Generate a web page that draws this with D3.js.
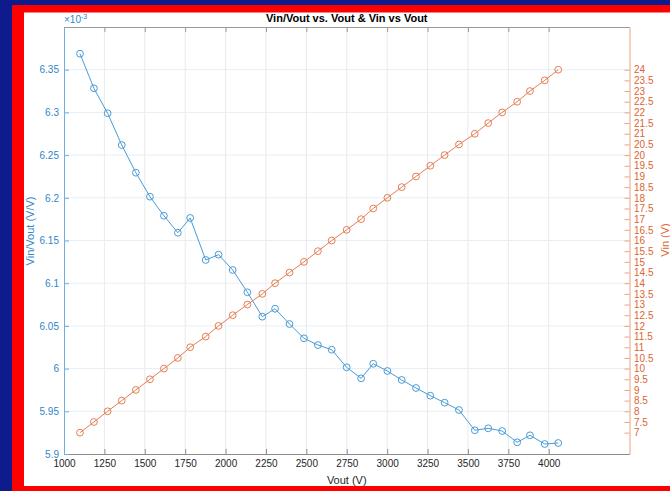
<!DOCTYPE html>
<html>
<head>
<meta charset="utf-8">
<script src="https://cdn.jsdelivr.net/npm/d3@7"></script>
<style>
  html, body { margin: 0; padding: 0; background: #0e1b8c; }
  svg { display: block; font-family: "Liberation Sans", Arial, sans-serif; }
</style>
</head>
<body>
<svg id="chart" width="670" height="491"></svg>
<script>
// Input voltage steps (V)
const vin = [7, 7.5, 8, 8.5, 9, 9.5, 10, 10.5, 11, 11.5, 12, 12.5, 13, 13.5, 14, 14.5, 15,
             15.5, 16, 16.5, 17, 17.5, 18, 18.5, 19, 19.5, 20, 20.5, 21, 21.5, 22, 22.5, 23, 23.5, 24];
// Output voltage measured at each step (V)
const vout = [1099.1, 1185.2, 1270.0, 1357.4, 1444.8, 1531.9, 1618.4, 1704.8, 1781.0, 1876.9,
              1956.5, 2044.0, 2134.9, 2227.4, 2306.4, 2395.8, 2485.3, 2571.5, 2656.9, 2749.3,
              2838.8, 2913.9, 3001.4, 3090.2, 3178.7, 3267.3, 3355.7, 3444.5, 3542.6, 3625.6,
              3711.9, 3804.7, 3883.9, 3975.2, 4058.9];
// Vin/Vout ratio, in units of 1e-3 V/V
const ratio = [6.3687, 6.3282, 6.2990, 6.2618, 6.2294, 6.2013, 6.1790, 6.1591, 6.1764, 6.1272,
               6.1334, 6.1155, 6.0894, 6.0608, 6.0701, 6.0522, 6.0355, 6.0276, 6.0221, 6.0015,
               5.9886, 6.0057, 5.9972, 5.9867, 5.9773, 5.9683, 5.9601, 5.9515, 5.9278, 5.9301,
               5.9269, 5.9137, 5.9219, 5.9117, 5.9129];

// Tick values
const xTicks = [1000, 1250, 1500, 1750, 2000, 2250, 2500, 2750, 3000, 3250, 3500, 3750, 4000];
const leftTicks = [5.9, 5.95, 6.0, 6.05, 6.1, 6.15, 6.2, 6.25, 6.3, 6.35];
const rightTicks = [7, 7.5, 8, 8.5, 9, 9.5, 10, 10.5, 11, 11.5, 12, 12.5, 13, 13.5, 14, 14.5, 15,
                    15.5, 16, 16.5, 17, 17.5, 18, 18.5, 19, 19.5, 20, 20.5, 21, 21.5, 22, 22.5,
                    23, 23.5, 24];

const blue = "#2f86c9", blueLine = "#4a9bd6";
const orange = "#dc6532", orangeLine = "#e57e53";

const svg = d3.select("#chart");

// frame
svg.append("rect").attr("x", 0).attr("y", 0).attr("width", 670).attr("height", 491).attr("fill", "#0e1b8c");
svg.append("rect").attr("x", 12).attr("y", 5).attr("width", 658).attr("height", 486).attr("fill", "#ff0000");
svg.append("rect").attr("x", 24).attr("y", 12.5).attr("width", 646).attr("height", 473.5).attr("fill", "#ffffff");

const L = 64, R = 629.5, T = 27, B = 454;

const x = d3.scaleLinear().domain([1000, 4500]).range([L, R]);
const yL = d3.scaleLinear().domain([5.9, 6.4]).range([B, T]);
const yR = d3.scaleLinear().domain([6, 26]).range([B, T]);

// grid
const grid = svg.append("g");
grid.selectAll("line.v").data(xTicks.slice(1)).join("line")
  .attr("x1", d => x(d)).attr("x2", d => x(d)).attr("y1", T).attr("y2", B)
  .attr("stroke", "#e9eaec").attr("stroke-width", 1);
grid.selectAll("line.h").data(leftTicks.slice(1)).join("line")
  .attr("x1", L).attr("x2", R).attr("y1", d => yL(d)).attr("y2", d => yL(d))
  .attr("stroke", "#e7eef6").attr("stroke-width", 1);

// axes
function styleAxis(g, color, textColor) {
  g.select(".domain").attr("stroke", color).attr("stroke-width", 1);
  g.selectAll(".tick line").attr("stroke", color).attr("stroke-width", 1);
  g.selectAll(".tick text").attr("fill", textColor).attr("font-size", 10)
    .attr("font-family", "Liberation Sans, Arial, sans-serif");
}

const xAxis = svg.append("g").attr("transform", `translate(0,${B})`)
  .call(d3.axisBottom(x).tickValues(xTicks).tickFormat(d3.format("d"))
    .tickSizeInner(-5).tickSizeOuter(0).tickPadding(6));
styleAxis(xAxis, "#8c8c8c", "#262626");

const topAxis = svg.append("g").attr("transform", `translate(0,${T})`)
  .call(d3.axisTop(x).tickValues(xTicks).tickFormat("").tickSizeInner(-5).tickSizeOuter(0));
styleAxis(topAxis, "#9a9a9a", "#262626");

const leftAxis = svg.append("g").attr("transform", `translate(${L},0)`)
  .call(d3.axisLeft(yL).tickValues(leftTicks).tickFormat(d => d3.format("")(+d.toFixed(2)))
    .tickSizeInner(-5).tickSizeOuter(0).tickPadding(5));
styleAxis(leftAxis, "#6fb0e0", blue);

const rightAxis = svg.append("g").attr("transform", `translate(${R},0)`)
  .call(d3.axisRight(yR).tickValues(rightTicks).tickFormat(d => String(d))
    .tickSizeInner(-5).tickSizeOuter(0).tickPadding(4.5));
styleAxis(rightAxis, "#eba283", orange);

// series: Vin/Vout vs Vout (left axis)
const pts = vout.map((v, i) => ({ x: v, r: ratio[i], vin: vin[i] }));

svg.append("path").datum(pts)
  .attr("fill", "none").attr("stroke", blueLine).attr("stroke-width", 1)
  .attr("d", d3.line().x(d => x(d.x)).y(d => yL(d.r)));
svg.append("g").selectAll("circle").data(pts).join("circle")
  .attr("cx", d => x(d.x)).attr("cy", d => yL(d.r)).attr("r", 3.4)
  .attr("fill", "none").attr("stroke", blueLine).attr("stroke-width", 1);

// series: Vin vs Vout (right axis)
svg.append("path").datum(pts)
  .attr("fill", "none").attr("stroke", orangeLine).attr("stroke-width", 1)
  .attr("d", d3.line().x(d => x(d.x)).y(d => yR(d.vin)));
svg.append("g").selectAll("circle").data(pts).join("circle")
  .attr("cx", d => x(d.x)).attr("cy", d => yR(d.vin)).attr("r", 3.4)
  .attr("fill", "none").attr("stroke", orangeLine).attr("stroke-width", 1);

// exponent marker for the left axis
const ex = svg.append("text").attr("x", 64).attr("y", 23).attr("fill", blue).attr("font-size", 10);
ex.append("tspan").text("×10");
ex.append("tspan").attr("font-size", 7).attr("dy", -4).text("-3");

// title
svg.append("text").attr("x", (L + R) / 2).attr("y", 22).attr("text-anchor", "middle")
  .attr("font-size", 11).attr("font-weight", "bold").attr("fill", "#000")
  .text("Vin/Vout vs. Vout & Vin vs Vout");

// axis labels
svg.append("text").attr("x", (L + R) / 2).attr("y", 484).attr("text-anchor", "middle")
  .attr("font-size", 11).attr("fill", "#262626").text("Vout (V)");
svg.append("text").attr("transform", "translate(33.5,231) rotate(-90)").attr("text-anchor", "middle")
  .attr("font-size", 11).attr("fill", blue).text("Vin/Vout (V/V)");
svg.append("text").attr("transform", "translate(669,240) rotate(-90)").attr("text-anchor", "middle")
  .attr("font-size", 11).attr("fill", orange).text("Vin (V)");
</script>
</body>
</html>
